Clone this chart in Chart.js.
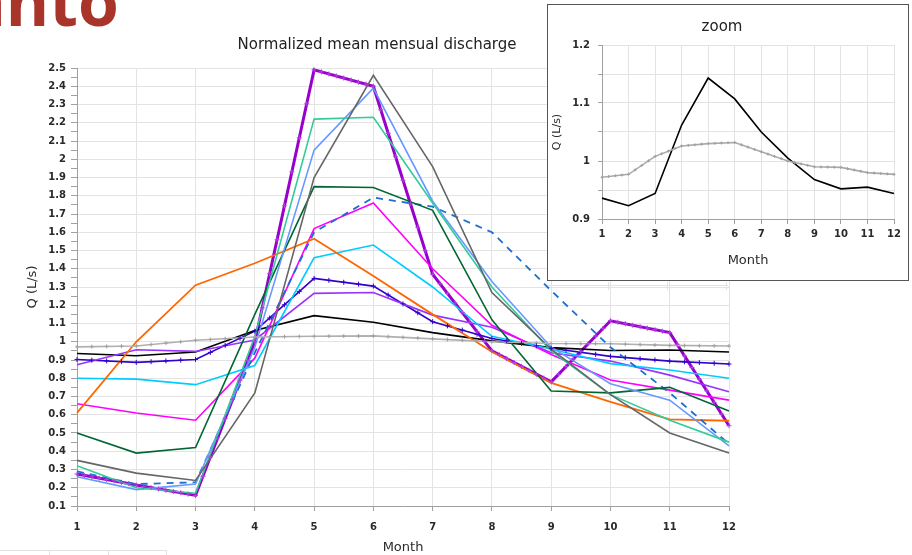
<!DOCTYPE html>
<html>
<head>
<meta charset="utf-8">
<script src="https://cdn.jsdelivr.net/npm/chart.js@4.4.1/dist/chart.umd.min.js"></script>
<style>
  html, body { margin: 0; padding: 0; background: #fff; }
  body { width: 912px; height: 555px; position: relative; overflow: hidden; }
  #mainBox { position: absolute; left: 0; top: 0; width: 754px; height: 555px; }
  #zoomBox { position: absolute; left: 547px; top: 4px; width: 360px; height: 275px;
             border: 1px solid #555; background: #fff; z-index: 2; }
  #slideTitle { position: absolute; left: -34px; top: -33px; font: bold 66px 'Open Sans', sans-serif;
                color: #a8342a; line-height: 1; z-index: 3; }
  .cell { position: absolute; background: #e2e2e2; }
</style>
</head>
<body>
<div id="slideTitle">anto</div>
<div id="mainBox"><canvas id="mainChart"></canvas></div>
<div id="zoomBox"><canvas id="zoomChart"></canvas></div>
<div class="cell" style="left:0;top:550px;width:166px;height:1px"></div>
<div class="cell" style="left:49px;top:550px;width:1px;height:5px"></div>
<div class="cell" style="left:108px;top:550px;width:1px;height:5px"></div>
<div class="cell" style="left:166px;top:550px;width:1px;height:5px"></div>
<div class="cell" style="left:548px;top:285px;width:180px;height:1px"></div>
<div class="cell" style="left:608px;top:282px;width:1px;height:8px"></div>
<div class="cell" style="left:667px;top:282px;width:1px;height:8px"></div>
<div class="cell" style="left:726px;top:282px;width:1px;height:8px"></div>
<script>
// Normalized mean mensual discharge, months 1..12
const months = ["1", "2", "3", "4", "5", "6", "7", "8", "9", "10", "11", "12"];

const meanAll   = [0.936, 0.923, 0.944, 1.062, 1.143, 1.107, 1.050, 1.005, 0.968, 0.952, 0.955, 0.944];
const meanGrey  = [0.972, 0.977, 1.008, 1.026, 1.030, 1.032, 1.016, 1.000, 0.990, 0.989, 0.980, 0.977];
const darkGrey  = [0.35, 0.28, 0.24, 0.72, 1.90, 2.46, 1.96, 1.27, 0.96, 0.71, 0.50, 0.39];
const cornflower= [0.26, 0.19, 0.22, 0.97, 2.05, 2.39, 1.77, 1.33, 0.97, 0.77, 0.68, 0.43];
const teal      = [0.32, 0.20, 0.17, 1.03, 2.22, 2.23, 1.76, 1.30, 0.95, 0.71, 0.57, 0.45];
const darkGreen = [0.50, 0.39, 0.42, 1.15, 1.85, 1.845, 1.72, 1.12, 0.73, 0.72, 0.75, 0.62];
const blueDash  = [0.29, 0.22, 0.23, 0.94, 1.60, 1.79, 1.74, 1.60, 1.28, 0.97, 0.72, 0.44];
const magenta   = [0.66, 0.61, 0.57, 0.91, 1.62, 1.76, 1.40, 1.09, 0.93, 0.79, 0.735, 0.68];
const cyan      = [0.80, 0.795, 0.765, 0.87, 1.46, 1.53, 1.30, 1.03, 0.96, 0.88, 0.845, 0.80];
const orange    = [0.61, 1.00, 1.31, 1.43, 1.565, 1.36, 1.15, 0.945, 0.775, 0.67, 0.575, 0.567];
const violet    = [0.874, 0.956, 0.947, 1.01, 1.265, 1.27, 1.146, 1.08, 0.94, 0.894, 0.817, 0.726];
const darkBlue  = [0.903, 0.887, 0.903, 1.058, 1.347, 1.305, 1.11, 1.018, 0.964, 0.92, 0.894, 0.878];
const purple    = [0.275, 0.215, 0.158, 1.00, 2.49, 2.40, 1.37, 0.95, 0.78, 1.115, 1.05, 0.54];

const gridColor = "#e3e3e3";
const axisColor = "#a0a0a0";
const textColor = "#2a2a2a";

Chart.defaults.font.family = "'DejaVu Sans', sans-serif";
Chart.defaults.color = textColor;

// small cross marks along some lines (drawn from the points Chart.js placed)
const markPlugin = {
  id: "marks",
  afterDatasetsDraw(chart) {
    const ctx = chart.ctx;
    chart.data.datasets.forEach((ds, i) => {
      if (!ds.markEvery) return;
      const pts = chart.getDatasetMeta(i).data;
      const s = ds.markSize || 2;
      ctx.save();
      ctx.strokeStyle = ds.markColor || ds.borderColor;
      ctx.lineWidth = 1;
      ctx.beginPath();
      for (let p = 0; p < pts.length; p++) {
        const steps = p < pts.length - 1 ? ds.markEvery : 1;
        for (let k = 0; k < steps; k++) {
          const t = k / ds.markEvery;
          const nx = p < pts.length - 1 ? pts[p + 1] : pts[p];
          const x = pts[p].x + t * (nx.x - pts[p].x);
          const y = pts[p].y + t * (nx.y - pts[p].y);
          ctx.moveTo(x, y - s); ctx.lineTo(x, y + s);
          ctx.moveTo(x - s, y); ctx.lineTo(x + s, y);
        }
      }
      ctx.stroke();
      ctx.restore();
    });
  }
};

function line(data, color, extra) {
  return Object.assign({
    data: data,
    borderColor: color,
    backgroundColor: color,
    borderWidth: 1.6,
    pointRadius: 0,
    tension: 0,
    fill: false
  }, extra || {});
}

function tenthLabel(value) {
  const n = Math.round(value * 20);
  if (n % 2 !== 0) return "";
  return String(Math.round(value * 10) / 10);
}

function isTenth(ctx) {
  return Math.round(ctx.tick.value * 20) % 2 === 0;
}

// main chart
new Chart(document.getElementById("mainChart"), {
  type: "line",
  data: {
    labels: months,
    datasets: [
      line(meanGrey, "#b0b0b0", { markEvery: 4, markSize: 2, markColor: "#a0a0a0" }),
      line(darkGrey, "#666666"),
      line(teal, "#33cc99"),
      line(cornflower, "#6699ff"),
      line(darkGreen, "#006633"),
      line(blueDash, "#1a6fd0", { borderDash: [7, 6], borderWidth: 1.8 }),
      line(orange, "#ff6600", { borderWidth: 1.8 }),
      line(cyan, "#00ccff"),
      line(magenta, "#ff00ff"),
      line(violet, "#9933ff"),
      line(meanAll, "#000000"),
      line(darkBlue, "#3300cc", { markEvery: 4, markSize: 2.5 }),
      line(purple, "#9900cc", { borderWidth: 3, markEvery: 8, markSize: 2.5, markColor: "#b040e0" })
    ]
  },
  options: {
    responsive: true,
    maintainAspectRatio: false,
    animation: false,
    layout: { padding: 0 },
    plugins: {
      legend: { display: false },
      tooltip: { enabled: false },
      title: {
        display: true,
        text: "Normalized mean mensual discharge",
        font: { size: 15, weight: "normal" },
        color: "#222",
        padding: { top: 36, bottom: 14 }
      }
    },
    scales: {
      x: {
        offset: false,
        grid: { color: gridColor, tickLength: 5, tickColor: axisColor },
        border: { color: axisColor },
        ticks: { font: { size: 10, weight: "bold" }, padding: 10, maxRotation: 0, autoSkip: false },
        title: { display: true, text: "Month", font: { size: 13 }, padding: { top: 0, bottom: 0 } },
        afterFit(scale) { scale.height = 49; scale.paddingRight = 25; }
      },
      y: {
        min: 0.1,
        max: 2.5,
        grid: {
          color: (ctx) => (isTenth(ctx) ? gridColor : "rgba(0,0,0,0)"),
          tickColor: axisColor,
          tickLength: 6
        },
        border: { color: axisColor },
        ticks: {
          stepSize: 0.05,
          autoSkip: false,
          padding: 5,
          font: { size: 10, weight: "bold" },
          callback: tenthLabel
        },
        title: { display: true, text: "Q (L/s)", font: { size: 13 }, padding: { top: 25, bottom: 0 } },
        afterFit(scale) { scale.width = 77; }
      }
    }
  },
  plugins: [markPlugin]
});

// zoom inset
new Chart(document.getElementById("zoomChart"), {
  type: "line",
  data: {
    labels: months,
    datasets: [
      line(meanGrey, "#aaaaaa", { markEvery: 4, markSize: 1.5, markColor: "#a0a0a0" }),
      line(meanAll, "#000000")
    ]
  },
  options: {
    responsive: true,
    maintainAspectRatio: false,
    animation: false,
    layout: { padding: { left: 0, right: 12 } },
    plugins: {
      legend: { display: false },
      tooltip: { enabled: false },
      title: {
        display: true,
        text: "zoom",
        font: { size: 15, weight: "normal" },
        color: "#222",
        padding: { top: 13, bottom: 9 }
      }
    },
    scales: {
      x: {
        offset: false,
        grid: { color: gridColor, tickLength: 5, tickColor: axisColor },
        border: { color: axisColor },
        ticks: { font: { size: 10, weight: "bold" }, padding: 4, maxRotation: 0, autoSkip: false },
        title: { display: true, text: "Month", font: { size: 13 }, padding: { top: 0, bottom: 12 } },
        afterFit(scale) { scale.height = 61; scale.paddingRight = 14; }
      },
      y: {
        min: 0.9,
        max: 1.2,
        grid: { color: gridColor, tickColor: axisColor, tickLength: 4 },
        border: { color: axisColor },
        ticks: {
          stepSize: 0.05,
          autoSkip: false,
          padding: 8,
          font: { size: 10, weight: "bold" },
          callback: tenthLabel
        },
        title: { display: true, text: "Q (L/s)", font: { size: 11 }, padding: { top: 3, bottom: 0 } },
        afterFit(scale) { scale.width = 54; }
      }
    }
  },
  plugins: [markPlugin]
});
</script>
</body>
</html>
